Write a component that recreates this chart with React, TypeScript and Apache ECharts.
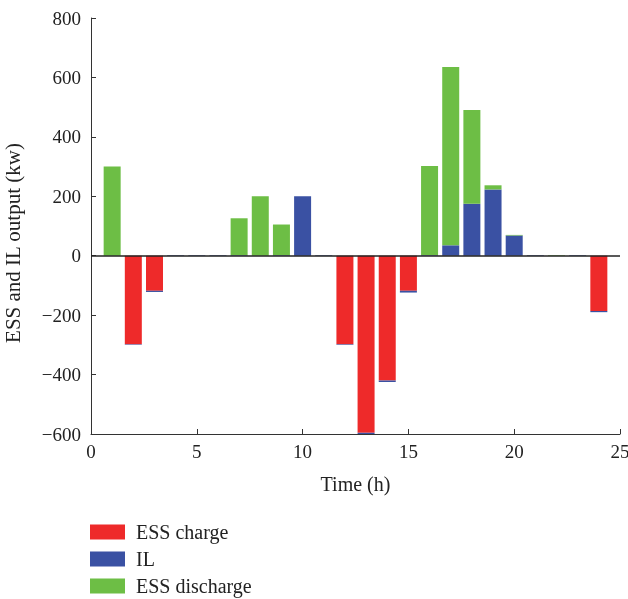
import React, { useEffect, useRef } from "react";
import * as echarts from "echarts";

const timeTicks = ["0", "1", "2", "3", "4", "5", "6", "7", "8", "9", "10", "11", "12", "13", "14", "15", "16", "17", "18", "19", "20", "21", "22", "23", "24", "25"];
const hours = [1, 2, 3, 4, 5, 6, 7, 8, 9, 10, 11, 12, 13, 14, 15, 16, 17, 18, 19, 20, 21, 22, 23, 24];
const essCharge = [0, -298, -118, 0, 0, 0, 0, 0, 0, 0, 0, -298, -596, -420, -118, 0, 0, 0, 0, 0, 0, 0, 0, -186];
const il = [0, -2, -4, 2, 2, 2, 2, 0, 2, 200, 2, -2, -4, -5, -6, 2, 35, 175, 223, 68, 2, 0, 2, -4];
const essDischarge = [300, 0, 0, 0, 0, 0, 124, 200, 103, 0, 0, 0, 0, 0, 0, 300, 600, 315, 14, 2, 0, 2, 0, 0];

const seriesNames = ["ESS charge", "IL", "ESS discharge"];
const colors = ["#EE2A2A", "#3A51A3", "#6DBE45"];

const FONT = "Liberation Serif";

function alignToTicks(vals: number[]) {
  return timeTicks.map((t) => {
    const i = hours.indexOf(Number(t));
    return i >= 0 ? vals[i] : "-";
  });
}

export default function App() {
  const ref = useRef<HTMLDivElement>(null);
  useEffect(() => {
    if (!ref.current) return;
    const chart = echarts.init(ref.current, null, { renderer: "svg" });
    const datasets = [essCharge, il, essDischarge];
    chart.setOption({
      animation: false,
      textStyle: { fontFamily: FONT },
      grid: {
        left: 91,
        right: 8,
        top: 18,
        bottom: 165,
        containLabel: false,
        outerBoundsMode: "none",
      },
      legend: {
        orient: "vertical",
        left: 85,
        top: 517,
        height: 80,
        itemWidth: 35,
        itemHeight: 15,
        itemGap: 7,
        icon: "rect",
        data: seriesNames,
        textStyle: { fontFamily: FONT, fontSize: 20, color: "#222", padding: [0, 0, 0, 6] },
      },
      xAxis: {
        type: "category",
        data: timeTicks,
        boundaryGap: false,
        name: "Time (h)",
        nameLocation: "middle",
        nameGap: 40,
        nameTextStyle: { fontFamily: FONT, fontSize: 20, color: "#222" },
        axisLine: { onZero: false, lineStyle: { color: "#333", width: 1 } },
        axisTick: { inside: true, length: 5, interval: 4, lineStyle: { color: "#333" } },
        axisLabel: { fontFamily: FONT, fontSize: 19, color: "#222", margin: 8, interval: 4 },
        splitLine: { show: false },
      },
      yAxis: {
        type: "value",
        min: -600,
        max: 800,
        interval: 200,
        name: "ESS and IL output (kw)",
        nameLocation: "middle",
        nameGap: 68,
        nameTextStyle: { fontFamily: FONT, fontSize: 21, color: "#222", padding: [0, 34, 0, 0] },
        axisLine: { show: true, lineStyle: { color: "#333", width: 1 } },
        axisTick: { show: true, inside: true, length: 5, lineStyle: { color: "#333" } },
        axisLabel: {
          fontFamily: FONT,
          fontSize: 19,
          color: "#222",
          margin: 10,
          formatter: (v: number) => String(v).replace("-", "\u2212"),
        },
        splitLine: { show: false },
      },
      series: seriesNames.map((name, k) => ({
        name,
        type: "bar",
        stack: "total",
        barWidth: 17,
        itemStyle: { color: colors[k] },
        data: alignToTicks(datasets[k]),
        ...(k === 2
          ? {
              markLine: {
                silent: true,
                symbol: "none",
                label: { show: false },
                lineStyle: { color: "#222", width: 1.5, type: "solid" },
                data: [{ yAxis: 0 }],
              },
            }
          : {}),
      })),
    });
    return () => chart.dispose();
  }, []);
  return (
    <div
      ref={ref}
      style={{ position: "fixed", left: 0, top: 0, width: 628, height: 599 }}
    />
  );
}
